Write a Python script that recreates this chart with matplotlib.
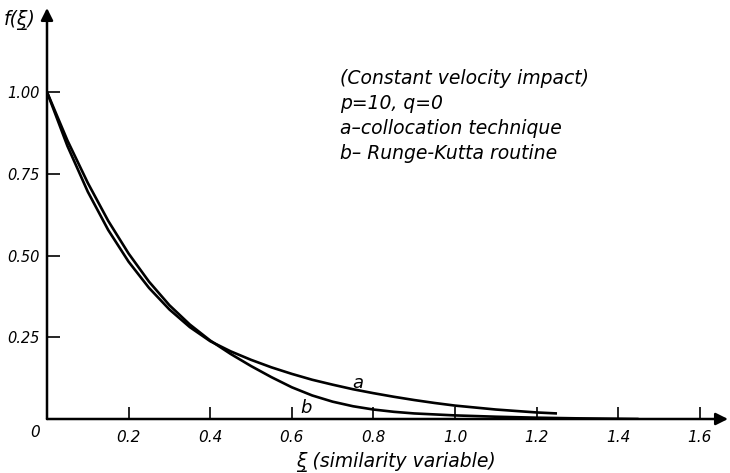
import numpy as np
import matplotlib
matplotlib.use('Agg')
import matplotlib.pyplot as plt

# curve a - collocation technique
xi_a = [0, 0.05, 0.10, 0.15, 0.20, 0.25, 0.30, 0.35, 0.40, 0.45, 0.50, 0.55,
        0.60, 0.65, 0.70, 0.75, 0.80, 0.85, 0.90, 0.95, 1.00, 1.10, 1.20, 1.25]
f_a = [1.0, 0.835, 0.695, 0.578, 0.481, 0.401, 0.335, 0.281, 0.238, 0.207, 0.181, 0.158,
       0.138, 0.12, 0.105, 0.091, 0.079, 0.068, 0.058, 0.049, 0.041, 0.029, 0.02, 0.017]

# curve b - Runge-Kutta routine
xi_b = [0, 0.05, 0.10, 0.15, 0.20, 0.25, 0.30, 0.35, 0.40, 0.45, 0.50, 0.55,
        0.60, 0.65, 0.70, 0.75, 0.80, 0.85, 0.90, 1.00, 1.10, 1.20, 1.30, 1.45]
f_b = [1.0, 0.852, 0.722, 0.606, 0.506, 0.42, 0.348, 0.289, 0.24, 0.199, 0.162, 0.128,
       0.097, 0.072, 0.053, 0.039, 0.029, 0.022, 0.017, 0.011, 0.007, 0.004, 0.002, 0.0]

x_ticks = [0.2, 0.4, 0.6, 0.8, 1.0, 1.2, 1.4, 1.6]
x_ticklabels = ['0.2', '0.4', '0.6', '0.8', '1.0', '1.2', '1.4', '1.6']
y_ticks = [0.25, 0.50, 0.75, 1.00]
y_ticklabels = ['0.25', '0.50', '0.75', '1.00']

notes = ['(Constant velocity impact)', 'p=10, q=0',
         'a\u2013collocation technique', 'b\u2013 Runge-Kutta routine']

W, H = 730, 473
fig = plt.figure(figsize=(7.3, 4.73), dpi=100)
ax = fig.add_axes([47 / W, (H - 419) / H, (728 - 47) / W, (419 - 8) / H])
ax.set_xlim(0, (728 - 47) / 408)
ax.set_ylim(0, (419 - 8) / 327)

for s in ax.spines.values():
    s.set_visible(False)

# axes with arrows
arrow = dict(arrowstyle='-|>', lw=1.8, color='black', mutation_scale=18, shrinkA=0, shrinkB=0)
ax.annotate('', xy=(1, 0), xytext=(0, 0), xycoords='axes fraction', arrowprops=arrow)
ax.annotate('', xy=(0, 1), xytext=(0, 0), xycoords='axes fraction', arrowprops=arrow)

ax.plot(xi_a, f_a, color='black', lw=1.9, solid_capstyle='butt')
ax.plot(xi_b, f_b, color='black', lw=1.9, solid_capstyle='butt')

txt = dict(fontstyle='italic', color='black')
ax.set_xticks(x_ticks)
ax.set_xticklabels(x_ticklabels, fontsize=11, **txt)
ax.set_yticks(y_ticks)
ax.set_yticklabels(y_ticklabels, fontsize=10.5, **txt)
ax.tick_params(direction='in', length=9, width=1.2, color='black')
ax.tick_params(axis='x', pad=8)
ax.tick_params(axis='y', pad=5)

ax.text(-0.03, -0.04, '0', fontsize=11, ha='center', va='center', **txt)

# curve labels
ax.text(0.762, 0.11, 'a', fontsize=13, ha='center', va='center', **txt)
ax.text(0.635, 0.035, 'b', fontsize=13, ha='center', va='center', **txt)

# notes
for i, line in enumerate(notes):
    ax.text((340 - 47) / 408, (419 - (84 + 25 * i)) / 327, line,
            fontsize=13.5, ha='left', va='baseline', **txt)

# axis labels
fig.text(4 / W, 1 - 20 / H, 'f(\u03be\u0332)', fontsize=13.5, ha='left', va='center', **txt)
fig.text(396 / W, 1 - 462 / H, '\u03be\u0332 (similarity variable)', fontsize=13.5,
         ha='center', va='center', **txt)

fig.savefig('out.png', dpi=100)
